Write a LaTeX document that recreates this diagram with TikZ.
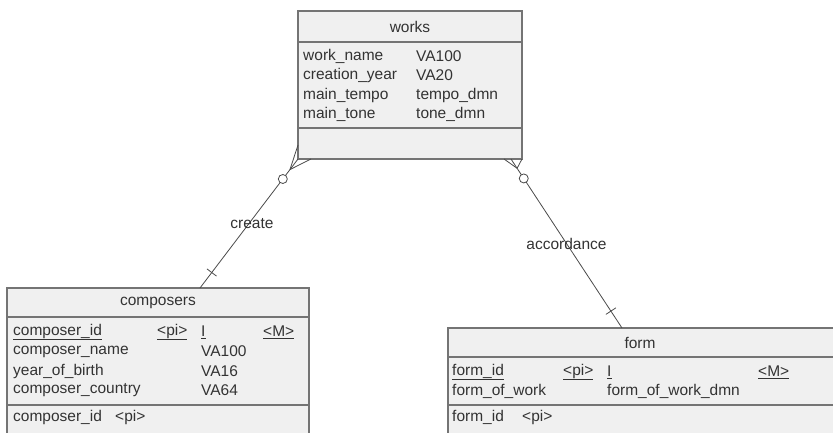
\documentclass[tikz,border=0pt]{standalone}
\usepackage{fontspec}
\setmainfont{Liberation Sans}
\usetikzlibrary{calc}
\definecolor{Ink}{HTML}{333333}
\definecolor{Frame}{HTML}{747474}
\definecolor{Paper}{HTML}{F0F0F0}
\definecolor{Wire}{HTML}{4A4A4A}

\begin{document}
\begin{tikzpicture}[x=1pt,y=-1pt,
    entity/.style={draw=Frame,fill=Paper,line width=1.4pt,anchor=north west,inner sep=0pt,outer sep=0pt},
    rule/.style={draw=Frame,line width=1.4pt},
    attr/.style={anchor=west,inner sep=0pt,text=Ink,font=\fontsize{15.5}{18}\selectfont},
    title/.style={inner sep=0pt,text=Ink,font=\fontsize{15.5}{18}\selectfont},
    wire/.style={draw=Wire,line width=0.8pt},
    ring/.style={circle,draw=Wire,fill=white,line width=0.8pt,minimum size=9pt,inner sep=0pt}]
    \useasboundingbox (0,0) rectangle (833,432);
    \clip (0,0) rectangle (833,432);

    % works
    \node[entity,minimum width=224pt,minimum height=148pt] (works) at (298,11) {};
    \draw[rule] (298,42) -- (522,42);
    \draw[rule] (298,128) -- (522,128);
    \node[title] (worksT) at (410,26.5) {works};
    \node[attr] (wName) at (303,56) {work\_name};
    \node[attr] (wYear) at (303,75.5) {creation\_year};
    \node[attr] (wTempo) at (303,95) {main\_tempo};
    \node[attr] (wTone) at (303,114.5) {main\_tone};
    \node[attr] (wNameV) at (416,56) {VA100};
    \node[attr] (wYearV) at (416,75.5) {VA20};
    \node[attr] (wTempoV) at (416,95) {tempo\_dmn};
    \node[attr] (wToneV) at (416,114.5) {tone\_dmn};

    % composers
    \node[entity,minimum width=302pt,minimum height=160pt] (composers) at (7,288) {};
    \draw[rule] (7,317) -- (309,317);
    \draw[rule] (7,405) -- (309,405);
    \node[title] (composersT) at (158,302.5) {composers};
    \node[attr] (cId) at (13,332) {\underline{composer\_id}};
    \node[attr] (cIdPi) at (157,332) {\underline{<pi>}};
    \node[attr] (cIdV) at (201,332) {\underline{I}};
    \node[attr] (cIdM) at (263,332) {\underline{<M>}};
    \node[attr] (cName) at (13,351.5) {composer\_name};
    \node[attr] (cNameV) at (201,351.5) {VA100};
    \node[attr] (cBirth) at (13,371) {year\_of\_birth};
    \node[attr] (cBirthV) at (201,371) {VA16};
    \node[attr] (cCountry) at (13,390.5) {composer\_country};
    \node[attr] (cCountryV) at (201,390.5) {VA64};
    \node[attr] (cKey) at (13,417) {composer\_id};
    \node[attr] (cKeyPi) at (115,417) {<pi>};

    % form
    \node[entity,minimum width=400pt,minimum height=120pt] (form) at (448,328) {};
    \draw[rule] (448,357) -- (848,357);
    \draw[rule] (448,405) -- (848,405);
    \node[title] (formT) at (640,342.5) {form};
    \node[attr] (fId) at (452,372) {\underline{form\_id}};
    \node[attr] (fIdPi) at (563,372) {\underline{<pi>}};
    \node[attr] (fIdV) at (607,372) {\underline{I}};
    \node[attr] (fIdM) at (758,372) {\underline{<M>}};
    \node[attr] (fWork) at (452,391.5) {form\_of\_work};
    \node[attr] (fWorkV) at (607,391.5) {form\_of\_work\_dmn};
    \node[attr] (fKey) at (452,417) {form\_id};
    \node[attr] (fKeyPi) at (522,417) {<pi>};

    % create
    \coordinate (cEnd) at (200,288);
    \draw[wire] (cEnd) -- node[title,pos=0.5,xshift=3pt] (create) {create} (works.south west);
    \coordinate (cFork) at ($(works.south west)!0.082!(cEnd)$);
    \draw[wire] (cFork) -- ($(works.south west)+(0,-14)$);
    \draw[wire] (cFork) -- ($(works.south west)+(13,0)$);
    \node[ring] (cRing) at ($(works.south west)!0.155!(cEnd)$) {};
    \coordinate (cBar) at ($(cEnd)!0.12!(works.south west)$);
    \draw[wire] ($(cBar)!6pt!90:(works.south west)$) -- ($(cBar)!6pt!-90:(works.south west)$);

    % accordance
    \coordinate (fEnd) at (622,328);
    \coordinate (fHit) at ($(works.south east)+(-11,0)$);
    \draw[wire] (fEnd) -- node[title,pos=0.5] (accordance) {accordance} (fHit);
    \coordinate (fFork) at ($(fHit)!0.055!(fEnd)$);
    \draw[wire] (fFork) -- ($(works.south east)+(-18,0)$);
    \draw[wire] (fFork) -- (works.south east);
    \node[ring] (fRing) at ($(fHit)!0.115!(fEnd)$) {};
    \coordinate (fBar) at ($(fEnd)!0.1!(fHit)$);
    \draw[wire] ($(fBar)!6pt!90:(fHit)$) -- ($(fBar)!6pt!-90:(fHit)$);
\end{tikzpicture}
\end{document}
